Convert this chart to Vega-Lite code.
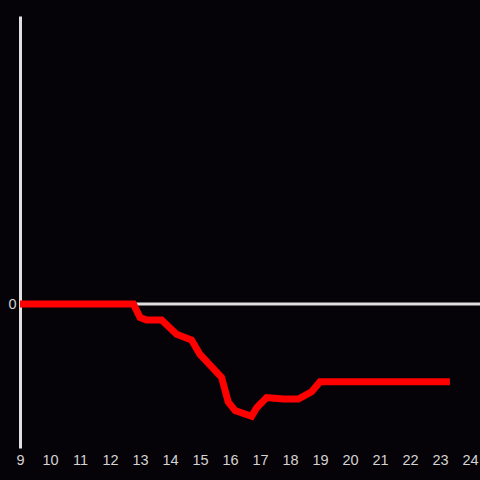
{
  "$schema": "https://vega.github.io/schema/vega-lite/v6.json",
  "width": 460,
  "height": 432,
  "autosize": {"type": "none"},
  "padding": {"left": 20, "top": 16, "right": 0, "bottom": 32},
  "background": "#050308",
  "config": {
    "view": {"stroke": null},
    "axis": {"labelFont": "Liberation Sans", "labelFontSize": 14.5, "labelColor": "#d4d4d4", "grid": false, "ticks": false, "title": null}
  },
  "layer": [
    {
      "data": {"values": [{"y": 0}]},
      "mark": {"type": "rule", "color": "#e0e0e0", "strokeWidth": 3},
      "encoding": {"y": {"field": "y", "type": "quantitative", "scale": {"domain": [-1, 2]}}}
    },
    {
      "data": {"values": [
        {"x": 9, "y": 0},
        {"x": 12.78, "y": 0},
        {"x": 13.0, "y": -0.093},
        {"x": 13.22, "y": -0.111},
        {"x": 13.72, "y": -0.111},
        {"x": 14.22, "y": -0.21},
        {"x": 14.72, "y": -0.25},
        {"x": 15.0, "y": -0.35},
        {"x": 15.72, "y": -0.51},
        {"x": 15.94, "y": -0.68},
        {"x": 16.17, "y": -0.74},
        {"x": 16.72, "y": -0.78},
        {"x": 16.89, "y": -0.72},
        {"x": 17.22, "y": -0.65},
        {"x": 17.78, "y": -0.66},
        {"x": 18.28, "y": -0.66},
        {"x": 18.72, "y": -0.61},
        {"x": 19.0, "y": -0.54},
        {"x": 23.33, "y": -0.54}
      ]},
      "mark": {"type": "line", "color": "#ff0000", "strokeWidth": 7},
      "encoding": {
        "x": {"field": "x", "type": "quantitative", "scale": {"domain": [9, 24.333], "nice": false, "zero": false},
              "axis": {"values": [9,10,11,12,13,14,15,16,17,18,19,20,21,22,23,24], "format": "d", "domain": false, "labelPadding": 5, "labelFlush": false}},
        "y": {"field": "y", "type": "quantitative", "scale": {"domain": [-1, 2], "nice": false},
              "axis": {"values": [0], "format": "d", "domain": true, "domainColor": "#e0e0e0", "domainWidth": 3, "labelPadding": 4}}
      }
    }
  ]
}
